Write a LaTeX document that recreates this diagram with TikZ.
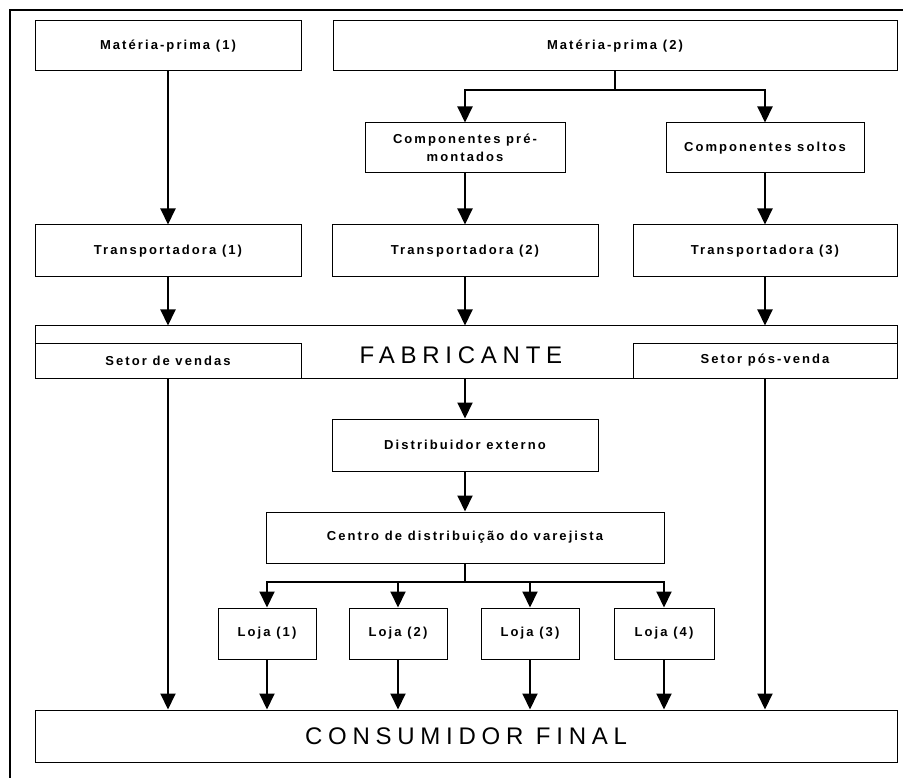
\documentclass[tikz,border=0pt]{standalone}
\usepackage{fontspec}
\setmainfont{Liberation Sans}
\newfontfamily\lblfont[LetterSpace=16]{Liberation Sans}
\newfontfamily\bigfont[LetterSpace=24]{Liberation Sans}
\usetikzlibrary{arrows.meta}
\begin{document}
\begin{tikzpicture}[x=1pt,y=-1pt,
  box/.style={draw, line width=1pt, fill=white, inner sep=0pt, align=center,
    font=\lblfont\bfseries\fontsize{13}{18}\selectfont},
  bigbox/.style={draw, line width=1pt, inner sep=0pt,
    font=\bigfont\fontsize{24}{27}\selectfont},
  flow/.style={line width=2pt, -{Triangle[width=15pt,length=16pt]}},
  stem/.style={line width=2pt},
  frame/.style={line width=1.5pt}]
\useasboundingbox (0,0) rectangle (903,778);

% outer frame (top and left edges)
\coordinate (fa) at (10,778);
\coordinate (fb) at (10,10);
\coordinate (fc) at (903,10);
\draw[frame] (fa) -- (fb) -- (fc);

% raw materials
\node[box, minimum width=266pt, minimum height=50pt] (mp1) at (168,46) {Matéria-prima (1)};
\node[box, minimum width=564pt, minimum height=50pt] (mp2) at (615,46) {Matéria-prima (2)};

% components
\node[box, minimum width=200pt, minimum height=50pt] (cpm) at (465,148) {Componentes pré-\\montados};
\node[box, minimum width=198pt, minimum height=50pt] (cs) at (765,148) {Componentes soltos};

% carriers
\node[box, minimum width=266pt, minimum height=52pt] (t1) at (168,251) {Transportadora (1)};
\node[box, minimum width=266pt, minimum height=52pt] (t2) at (465,251) {Transportadora (2)};
\node[box, minimum width=264pt, minimum height=52pt] (t3) at (765,251) {Transportadora (3)};

% manufacturer with its sectors
\node[bigbox, minimum width=862pt, minimum height=52pt] (fab) at (466,352) {};
\node[font=\bigfont\fontsize{24}{27}\selectfont, inner sep=0pt] (fabt) at (461,355) {FABRICANTE};
\node[box, minimum width=266pt, minimum height=35pt] (sv) at (168,360.5) {Setor de vendas};
\node[box, minimum width=264pt, minimum height=35pt] (spv) at (765,360.5) {Setor pós-venda};

% distribution
\node[box, minimum width=266pt, minimum height=52pt] (dist) at (465,445) {Distribuidor externo};
\node[box, minimum width=398pt, minimum height=51pt] (cdv) at (465,537.5) {Centro de distribuição do varejista};

% stores
\node[box, minimum width=98pt, minimum height=51pt] (l1) at (267,633.5) {Loja (1)};
\node[box, minimum width=98pt, minimum height=51pt] (l2) at (398,633.5) {Loja (2)};
\node[box, minimum width=98pt, minimum height=51pt] (l3) at (530,633.5) {Loja (3)};
\node[box, minimum width=100pt, minimum height=51pt] (l4) at (664,633.5) {Loja (4)};

% final consumer
\node[bigbox, minimum width=862pt, minimum height=52pt] (cons) at (466,736) {CONSUMIDOR FINAL};

% connectors
\draw[flow] (mp1.south) -- (t1.north);
\coordinate (j1) at (615,90);
\draw[stem] (mp2.south) -- (j1);
\draw[flow] (j1) -| (cpm.north);
\draw[flow] (j1) -| (cs.north);
\draw[flow] (cpm.south) -- (cpm.south |- t2.north);
\draw[flow] (cs.south) -- (cs.south |- t3.north);
\draw[flow] (t1.south) -- (t1.south |- fab.north);
\draw[flow] (t2.south) -- (t2.south |- fab.north);
\draw[flow] (t3.south) -- (t3.south |- fab.north);
\draw[flow] (dist.north |- fab.south) -- (dist.north);
\draw[flow] (dist.south) -- (dist.south |- cdv.north);
\coordinate (j2) at (465,582);
\draw[stem] (cdv.south) -- (j2);
\draw[flow] (j2) -| (l1.north);
\draw[flow] (j2) -| (l2.north);
\draw[flow] (j2) -| (l3.north);
\draw[flow] (j2) -| (l4.north);
\draw[flow] (l1.south) -- (l1.south |- cons.north);
\draw[flow] (l2.south) -- (l2.south |- cons.north);
\draw[flow] (l3.south) -- (l3.south |- cons.north);
\draw[flow] (l4.south) -- (l4.south |- cons.north);
\draw[flow] (sv.south) -- (sv.south |- cons.north);
\draw[flow] (spv.south) -- (spv.south |- cons.north);
\end{tikzpicture}
\end{document}
